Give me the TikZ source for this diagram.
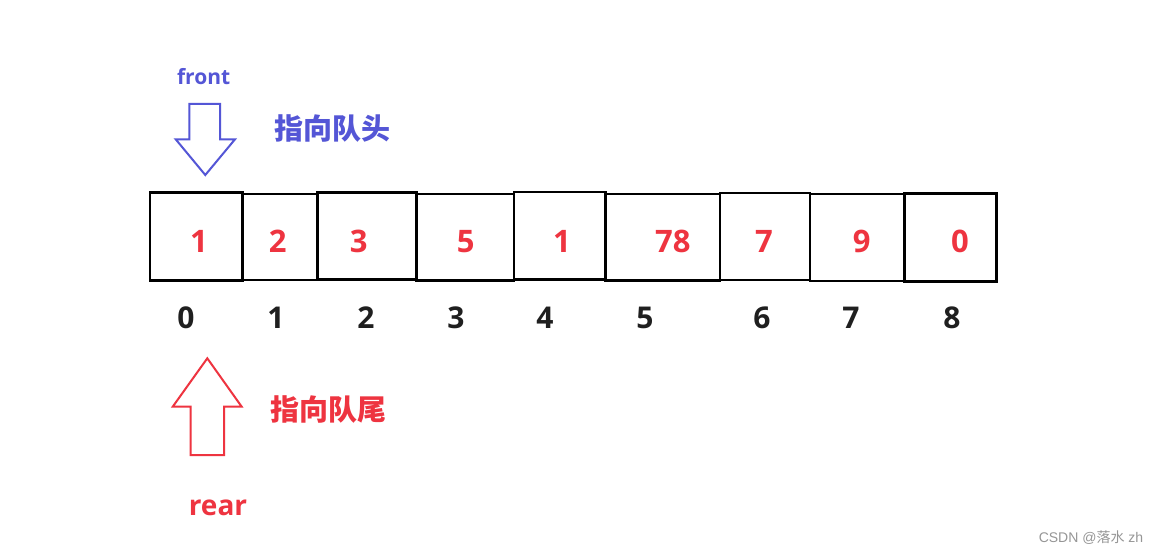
\documentclass[tikz,border=0pt]{standalone}
\usepackage{fontspec}
\setmainfont{Open Sans}
\newfontfamily\cjk{Noto Sans CJK SC}
\newfontfamily\wmfont{Liberation Sans}
\definecolor{qred}{RGB}{238,52,64}
\definecolor{qblue}{RGB}{84,86,214}
\definecolor{wmgray}{RGB}{150,150,150}
\tikzset{
  cellbox/.style={draw=black, line width=2.6pt, inner sep=0pt, outer sep=0pt},
  valtxt/.style={text=qred, font=\fontsize{31}{31}\selectfont\bfseries, inner sep=0pt},
  idxtxt/.style={text=black!88, font=\fontsize{30}{30}\selectfont\bfseries, inner sep=0pt},
  ptrarrow/.style={line width=2pt, line join=miter},
  cjklabel/.style={font=\cjk\fontsize{29}{29}\selectfont\bfseries, inner sep=0pt},
}
\begin{document}
\begin{tikzpicture}[x=1pt,y=-1pt]
\useasboundingbox[fill=white] (0,0) rectangle (1158,556);
% cells
\node[cellbox, minimum width=92.7pt, minimum height=88pt] (c0) at (196.35,236.7) {};
\node[cellbox, minimum width=75pt, minimum height=86pt] (c1) at (280.2,237) {};
\node[cellbox, minimum width=99pt, minimum height=86.6pt] (c2) at (367.2,236) {};
\node[cellbox, minimum width=97.3pt, minimum height=86.7pt] (c3) at (465.35,237.35) {};
\node[cellbox, minimum width=91.7pt, minimum height=87.3pt] (c4) at (559.85,235.65) {};
\node[cellbox, minimum width=114.3pt, minimum height=86.7pt] (c5) at (662.85,237.35) {};
\node[cellbox, minimum width=90pt, minimum height=87pt] (c6) at (765,236.5) {};
\node[cellbox, minimum width=94.3pt, minimum height=87pt] (c7) at (857.15,237.5) {};
\node[cellbox, minimum width=92.4pt, minimum height=88.4pt] (c8) at (950.5,237.5) {};
% values
\node[valtxt] (v0) at (199,241.3) {1};
\node[valtxt] (v1) at (277.7,241.3) {2};
\node[valtxt] (v2) at (358.7,241.3) {3};
\node[valtxt] (v3) at (465.8,241.3) {5};
\node[valtxt] (v4) at (562,241.3) {1};
\node[valtxt] (v5) at (672.8,241.3) {78};
\node[valtxt] (v6) at (764,241.3) {7};
\node[valtxt] (v7) at (861.7,241.3) {9};
\node[valtxt] (v8) at (960,241.3) {0};
% indices
\node[idxtxt] (i0) at (186,318) {0};
\node[idxtxt] (i1) at (276,318) {1};
\node[idxtxt] (i2) at (366,318) {2};
\node[idxtxt] (i3) at (456,318) {3};
\node[idxtxt] (i4) at (545,318) {4};
\node[idxtxt] (i5) at (645,318) {5};
\node[idxtxt] (i6) at (762,318) {6};
\node[idxtxt] (i7) at (851,318) {7};
\node[idxtxt] (i8) at (952,318) {8};
% front pointer
\node[text=qblue, font=\fontsize{21}{21}\selectfont\bfseries, inner sep=0pt, anchor=base] (front) at (203.7,84.3) {front};
\draw[ptrarrow, draw=qblue] (189.3,104) -- (220,104) -- (220,139.3) -- (235,139.3) -- (205.3,175) -- (175.7,139.3) -- (189.3,139.3) -- cycle;
\node[cjklabel, text=qblue] (headlbl) at (332,128.3) {指向队头};
% rear pointer
\draw[ptrarrow, draw=qred] (207.3,358.3) -- (241.7,406.7) -- (224,406.7) -- (224,455) -- (190.7,455) -- (190.7,406.7) -- (172.7,406.7) -- cycle;
\node[cjklabel, text=qred] (taillbl) at (328.7,410) {指向队尾};
\node[text=qred, font=\fontsize{28}{28}\selectfont\bfseries, inner sep=0pt, anchor=base] (rear) at (218,515) {rear};
% watermark
\node[text=wmgray, font=\wmfont\fontsize{14}{14}\selectfont, inner sep=0pt] (wm) at (1091,538) {CSDN @{\cjk 落水} zh};
\end{tikzpicture}
\end{document}
